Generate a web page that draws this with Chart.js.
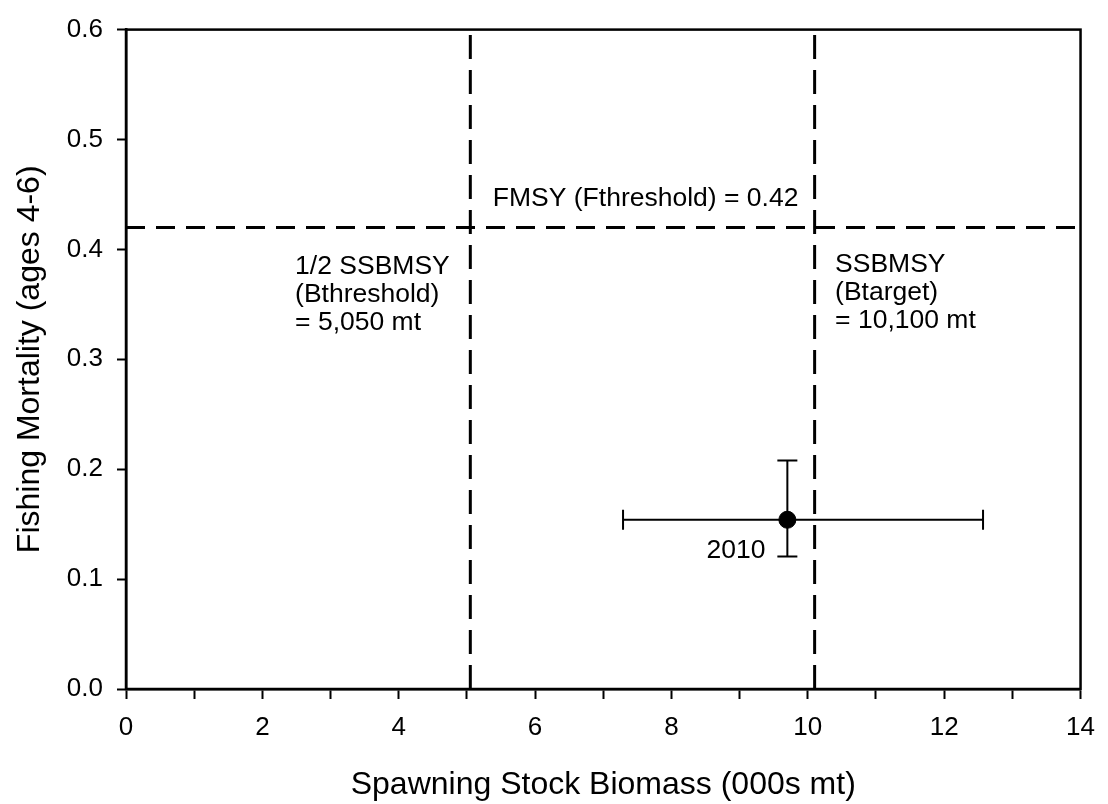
<!DOCTYPE html>
<html>
<head>
<meta charset="utf-8">
<script src="https://cdn.jsdelivr.net/npm/chart.js@4.4.1/dist/chart.umd.min.js"></script>
<style>
  html, body { margin: 0; padding: 0; background: #fff; }
</style>
</head>
<body>
<canvas id="status-chart" width="1108" height="804"></canvas>
<script>
// Stock status point (2010) with 80% confidence bounds
const years = ['2010'];
const ssb = [9.7];
const fishingMortality = [0.154];
const ssbLow = [7.29];
const ssbHigh = [12.57];
const fLow = [0.1205];
const fHigh = [0.208];

// Reference points
const fThreshold = 0.42;
const bThreshold = 5.05;
const bTarget = 10.1;

// Axis ranges and tick labels
const xRange = [0, 14];
const yRange = [0, 0.6];
const xTickLabels = ['0', '2', '4', '6', '8', '10', '12', '14'];
const yTickLabels = ['0.0', '0.1', '0.2', '0.3', '0.4', '0.5', '0.6'];

// Annotation texts
const fLabel = ['FMSY (Fthreshold) = 0.42'];
const bThresholdLabel = ['1/2 SSBMSY', '(Bthreshold)', '= 5,050 mt'];
const bTargetLabel = ['SSBMSY', '(Btarget)', '= 10,100 mt'];

const FONT = '"Liberation Sans", Arial, sans-serif';

// Where the annotation blocks sit (in axis units)
const annotations = [
  { lines: fLabel, x: 5.38, y: 0.446, align: 'left' },
  { lines: bThresholdLabel, x: 2.48, y: 0.384, align: 'left' },
  { lines: bTargetLabel, x: 10.40, y: 0.386, align: 'left' },
  { lines: years, x: 9.38, y: 0.126, align: 'right' }
];

// Draws the box round the plot area
const frame = {
  id: 'frame',
  afterDraw(chart) {
    const { ctx, chartArea: a } = chart;
    ctx.save();
    ctx.strokeStyle = '#000';
    ctx.lineWidth = 2.5;
    ctx.strokeRect(a.left, a.top, a.right - a.left, a.bottom - a.top);
    ctx.restore();
  }
};

// Draws x and y error bars with caps
const errorBars = {
  id: 'errorBars',
  beforeDatasetsDraw(chart) {
    const { ctx, scales: { x, y } } = chart;
    const cap = 10;
    ctx.save();
    ctx.strokeStyle = '#000';
    ctx.lineWidth = 2;
    ssb.forEach((v, i) => {
      const px = x.getPixelForValue(v);
      const py = y.getPixelForValue(fishingMortality[i]);
      const xl = x.getPixelForValue(ssbLow[i]);
      const xh = x.getPixelForValue(ssbHigh[i]);
      const yl = y.getPixelForValue(fLow[i]);
      const yh = y.getPixelForValue(fHigh[i]);
      ctx.beginPath();
      ctx.moveTo(xl, py); ctx.lineTo(xh, py);
      ctx.moveTo(xl, py - cap); ctx.lineTo(xl, py + cap);
      ctx.moveTo(xh, py - cap); ctx.lineTo(xh, py + cap);
      ctx.moveTo(px, yl); ctx.lineTo(px, yh);
      ctx.moveTo(px - cap, yl); ctx.lineTo(px + cap, yl);
      ctx.moveTo(px - cap, yh); ctx.lineTo(px + cap, yh);
      ctx.stroke();
    });
    ctx.restore();
  }
};

// Text labels for the reference points and the year
const textLabels = {
  id: 'textLabels',
  afterDatasetsDraw(chart) {
    const { ctx, scales: { x, y } } = chart;
    ctx.save();
    ctx.fillStyle = '#000';
    ctx.font = '26.5px ' + FONT;
    ctx.textBaseline = 'middle';
    annotations.forEach(a => {
      ctx.textAlign = a.align;
      const px = x.getPixelForValue(a.x);
      const py = y.getPixelForValue(a.y);
      a.lines.forEach((line, i) => ctx.fillText(line, px, py + i * 28));
    });
    ctx.restore();
  }
};

const dashH = [19, 11];
const dashV = [24, 11];

function refLine(points, dash) {
  return {
    type: 'line',
    data: points,
    borderColor: '#000',
    borderWidth: 3,
    borderDash: dash,
    pointRadius: 0,
    fill: false,
    order: 2
  };
}

const ctx = document.getElementById('status-chart').getContext('2d');
new Chart(ctx, {
  type: 'scatter',
  data: {
    datasets: [
      refLine([{ x: xRange[0], y: fThreshold }, { x: xRange[1], y: fThreshold }], dashH),
      refLine([{ x: bThreshold, y: yRange[0] }, { x: bThreshold, y: yRange[1] }], dashV),
      refLine([{ x: bTarget, y: yRange[0] }, { x: bTarget, y: yRange[1] }], dashV),
      {
        label: 'SSB / F',
        data: ssb.map((v, i) => ({ x: v, y: fishingMortality[i] })),
        backgroundColor: '#000',
        borderColor: '#000',
        pointRadius: 8.5,
        pointHoverRadius: 8.5,
        order: 1
      }
    ]
  },
  options: {
    responsive: false,
    animation: false,
    devicePixelRatio: 1,
    layout: { padding: { top: 17, right: 22, left: 0, bottom: 0 } },
    plugins: {
      legend: { display: false },
      tooltip: { enabled: false }
    },
    scales: {
      x: {
        type: 'linear',
        min: xRange[0],
        max: xRange[1],
        afterFit: s => { s.height = 115; },
        afterBuildTicks: s => {
          s.ticks = [];
          for (let v = xRange[0]; v <= xRange[1]; v++) s.ticks.push({ value: v });
        },
        ticks: {
          autoSkip: false,
          maxRotation: 0,
          padding: 13,
          color: '#000',
          font: { family: FONT, size: 26 },
          callback: v => xTickLabels.includes(String(v)) ? String(v) : ''
        },
        grid: {
          drawOnChartArea: false,
          drawTicks: true,
          tickLength: 10,
          tickWidth: 2,
          tickColor: '#000'
        },
        border: { display: true, color: '#000', width: 2.5 },
        title: {
          display: true,
          text: 'Spawning Stock Biomass (000s mt)',
          color: '#000',
          font: { family: FONT, size: 32 },
          padding: { top: 0, bottom: 0 }
        }
      },
      y: {
        type: 'linear',
        min: yRange[0],
        max: yRange[1],
        afterFit: s => { s.width = 126; },
        afterBuildTicks: s => {
          s.ticks = yTickLabels.map(t => ({ value: parseFloat(t) }));
        },
        ticks: {
          autoSkip: false,
          padding: 14,
          color: '#000',
          font: { family: FONT, size: 26 },
          callback: v => v.toFixed(1)
        },
        grid: {
          drawOnChartArea: false,
          drawTicks: true,
          tickLength: 9,
          tickWidth: 2,
          tickColor: '#000'
        },
        border: { display: true, color: '#000', width: 2.5 },
        title: {
          display: true,
          text: 'Fishing Mortality (ages 4-6)',
          color: '#000',
          font: { family: FONT, size: 32 },
          padding: { top: 11, bottom: 0 }
        }
      }
    }
  },
  plugins: [frame, errorBars, textLabels]
});
</script>
</body>
</html>
